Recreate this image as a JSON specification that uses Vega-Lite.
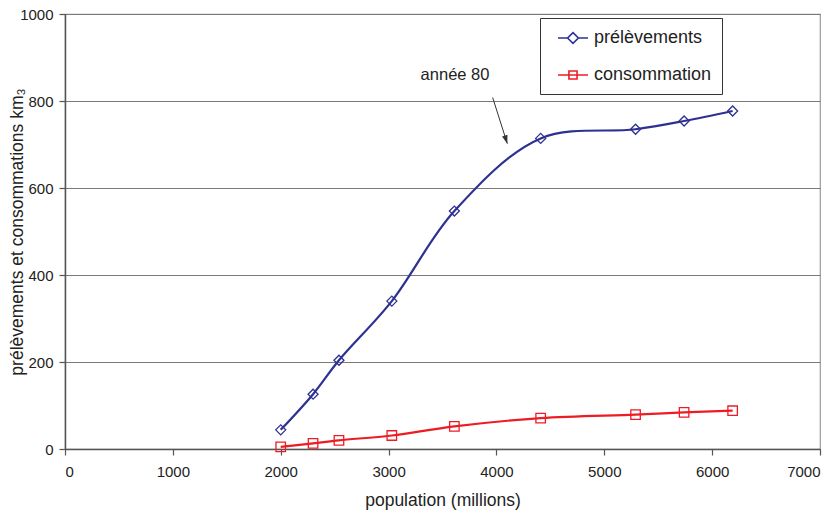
{
  "$schema": "https://vega.github.io/schema/vega-lite/v6.json",
  "width": 755,
  "height": 435,
  "autosize": "none",
  "padding": {"left": 65, "top": 14, "right": 17, "bottom": 65},
  "background": "white",
  "config": {
    "font": "Liberation Sans",
    "view": {"stroke": "#9a9a9a", "strokeWidth": 1.2},
    "axis": {
      "labelFont": "Liberation Sans",
      "titleFont": "Liberation Sans",
      "labelFontSize": 15,
      "titleFontSize": 17.5,
      "titleFontWeight": "normal",
      "labelColor": "#222",
      "titleColor": "#222",
      "domainColor": "#555",
      "domainWidth": 1.5,
      "tickColor": "#555",
      "tickSize": 6,
      "tickWidth": 1.2
    }
  },
  "datasets": {
    "series": [
      {"pop": 2000, "val": 44, "serie": "prélèvements"},
      {"pop": 2300, "val": 126, "serie": "prélèvements"},
      {"pop": 2540, "val": 204, "serie": "prélèvements"},
      {"pop": 3030, "val": 340, "serie": "prélèvements"},
      {"pop": 3610, "val": 547, "serie": "prélèvements"},
      {"pop": 4410, "val": 714, "serie": "prélèvements"},
      {"pop": 5290, "val": 735, "serie": "prélèvements"},
      {"pop": 5740, "val": 754, "serie": "prélèvements"},
      {"pop": 6190, "val": 777, "serie": "prélèvements"},
      {"pop": 2000, "val": 5, "serie": "consommation"},
      {"pop": 2300, "val": 13, "serie": "consommation"},
      {"pop": 2540, "val": 20, "serie": "consommation"},
      {"pop": 3030, "val": 31, "serie": "consommation"},
      {"pop": 3610, "val": 52, "serie": "consommation"},
      {"pop": 4410, "val": 71, "serie": "consommation"},
      {"pop": 5290, "val": 79, "serie": "consommation"},
      {"pop": 5740, "val": 84, "serie": "consommation"},
      {"pop": 6190, "val": 88, "serie": "consommation"}
    ],
    "note": [
      {"pop": 3616, "val": 860, "label": "année 80"}
    ],
    "arrow": [
      {"pop": 3965, "val": 808, "pop2": 4101, "val2": 702}
    ]
  },
  "layer": [
    {
      "data": {"name": "series"},
      "mark": {"type": "line", "interpolate": "catmull-rom", "strokeWidth": 2.2},
      "encoding": {
        "x": {
          "field": "pop", "type": "quantitative",
          "scale": {"domain": [0, 7000], "nice": false},
          "axis": {"values": [0, 1000, 2000, 3000, 4000, 5000, 6000, 7000], "format": "d", "grid": false, "title": "population (millions)", "labelPadding": 9, "titlePadding": 12}
        },
        "y": {
          "field": "val", "type": "quantitative",
          "scale": {"domain": [0, 1000], "nice": false},
          "axis": {"values": [0, 200, 400, 600, 800, 1000], "format": "d", "grid": true, "gridColor": "#7a7a7a", "gridWidth": 1.2, "title": "prélèvements et consommations km₃", "labelPadding": 6, "titlePadding": -7}
        },
        "color": {
          "field": "serie", "type": "nominal",
          "scale": {"domain": ["prélèvements", "consommation"], "range": ["#2e3192", "#ed1c24"]},
          "legend": {
            "title": null,
            "orient": "none",
            "legendX": 475,
            "legendY": 4,
            "direction": "vertical",
            "fillColor": "white",
            "strokeColor": "#333",
            "padding": 10,
            "symbolSize": 324,
            "symbolOffset": 13,
            "labelFontSize": 18,
            "labelFont": "Liberation Sans",
            "labelColor": "#222",
            "labelOffset": 11,
            "rowPadding": 18,
            "encode": {
              "symbols": {
                "update": {
                  "shape": {"signal": "datum.value === 'prélèvements' ? 'M-1.67,0L-0.6,0M0.6,0L1.67,0M0,-0.6L0.6,0L0,0.6L-0.6,0Z' : 'M-1.67,0L1.67,0M-0.45,-0.45L0.45,-0.45L0.45,0.45L-0.45,0.45Z'"},
                  "strokeWidth": {"value": 1.6},
                  "fill": {"value": "transparent"}
                }
              }
            }
          }
        }
      }
    },
    {
      "data": {"name": "series"},
      "transform": [{"filter": "datum.serie === 'prélèvements'"}],
      "mark": {"type": "point", "shape": "diamond", "filled": false, "strokeWidth": 1.3, "opacity": 1, "color": "#2e3192", "size": 100},
      "encoding": {
        "x": {"field": "pop", "type": "quantitative"},
        "y": {"field": "val", "type": "quantitative"}
      }
    },
    {
      "data": {"name": "series"},
      "transform": [{"filter": "datum.serie === 'consommation'"}],
      "mark": {"type": "point", "shape": "square", "filled": false, "strokeWidth": 1.3, "opacity": 1, "color": "#ed1c24", "size": 90},
      "encoding": {
        "x": {"field": "pop", "type": "quantitative"},
        "y": {"field": "val", "type": "quantitative"}
      }
    },
    {
      "data": {"name": "arrow"},
      "mark": {"type": "rule", "color": "#333", "strokeWidth": 1},
      "encoding": {
        "x": {"field": "pop", "type": "quantitative"},
        "y": {"field": "val", "type": "quantitative"},
        "x2": {"field": "pop2"},
        "y2": {"field": "val2"}
      }
    },
    {
      "data": {"name": "arrow"},
      "mark": {"type": "point", "shape": "M0,0L-0.4,-1.2L0.4,-1.2Z", "filled": true, "color": "#333", "size": 200, "angle": -17.6, "opacity": 1},
      "encoding": {
        "x": {"field": "pop2", "type": "quantitative"},
        "y": {"field": "val2", "type": "quantitative"}
      }
    },
    {
      "data": {"name": "note"},
      "mark": {"type": "text", "fontSize": 16.5, "font": "Liberation Sans", "color": "#222", "align": "center", "baseline": "middle"},
      "encoding": {
        "x": {"field": "pop", "type": "quantitative"},
        "y": {"field": "val", "type": "quantitative"},
        "text": {"field": "label"}
      }
    }
  ]
}
